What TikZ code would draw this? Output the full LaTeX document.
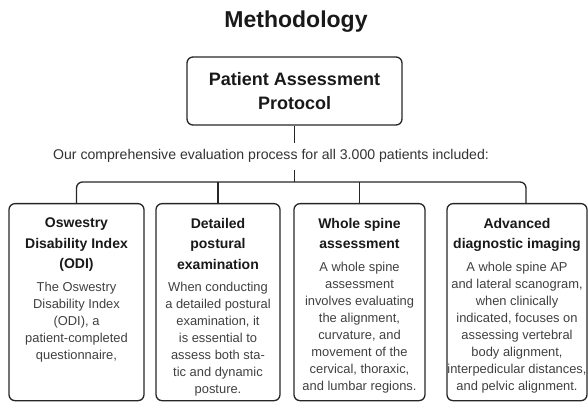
\documentclass[tikz,border=0pt]{standalone}
\usepackage{fontspec}
\setmainfont{Liberation Sans}
\usetikzlibrary{positioning}

\begin{document}
\begin{tikzpicture}[x=1pt,y=-1pt,
  card/.style={draw=black!85,line width=1.3pt,rounded corners=6pt,minimum height=197pt,inner sep=0pt,anchor=north},
  head/.style={inner sep=0pt,align=center,text depth=3.5pt,font=\fontsize{14}{20.5}\selectfont\bfseries,text=black!90},
  body/.style={inner sep=0pt,align=center,font=\fontsize{12.9}{17}\selectfont,text=black!75},
  link/.style={draw=black!85,line width=1.3pt}]
\useasboundingbox (0,0) rectangle (588,403);

\node [font=\fontsize{23}{28}\selectfont\bfseries,text=black!90] (title) at (296,22) {Methodology};
\node [draw=black!85,line width=1.3pt,rounded corners=6pt,minimum width=215pt,minimum height=68pt,
  align=center,font=\fontsize{18}{24}\selectfont\bfseries,text=black!90] (protocol) at (294.5,91)
  {Patient Assessment\\Protocol};
\node [anchor=base,inner xsep=0pt,inner ysep=7pt,text height=9.5pt,text depth=2.5pt,
  font=\fontsize{14.1}{16}\selectfont,text=black!80] (intro) at (271,160)
  {Our comprehensive evaluation process for all 3.000 patients included:};
\coordinate (hub) at (294.5,182);
\coordinate (imgjoin) at (526,203);

\node [card,minimum width=135pt] (odi) at (76.5,203) {};
\node [card,minimum width=124pt] (postural) at (218,203) {};
\node [card,minimum width=131pt] (spine) at (359.5,203) {};
\node [card,minimum width=140pt] (imaging) at (517,203) {};

\node [head,below=15pt of odi.north] (odihead) {Oswestry\\Disability Index\\(ODI)};
\node [body,below=9pt of odihead] (odibody)
  {The Oswestry\\Disability Index\\(ODI), a\\patient-completed\\questionnaire,};
\node [head,below=15pt of postural.north] (posturalhead) {Detailed\\postural\\examination};
\node [body,below=9pt of posturalhead] (posturalbody)
  {When conducting\\a detailed postural\\examination, it\\is essential to\\assess both sta-\\tic and dynamic\\posture.};
\node [head,below=15pt of spine.north] (spinehead) {Whole spine\\assessment};
\node [body,below=9pt of spinehead] (spinebody)
  {A whole spine\\assessment\\involves evaluating\\the alignment,\\curvature, and\\movement of the\\cervical, thoraxic,\\and lumbar regions.};
\node [head,below=15pt of imaging.north] (imaginghead) {Advanced\\diagnostic imaging};
\node [body,below=9pt of imaginghead] (imagingbody)
  {A whole spine AP\\and lateral scanogram,\\when clinically\\indicated, focuses on\\assessing vertebral\\body alignment,\\interpedicular distances,\\and pelvic alignment.};

\draw [link] (protocol.south) -- (protocol.south |- intro.north);
\draw [link] (protocol.south |- intro.south) -- (hub);
\draw [link,rounded corners=6pt] (odi.north) |- (imgjoin |- hub) -- (imgjoin);
\draw [link] (postural.north) -- (postural.north |- hub);
\draw [link] (spine.north) -- (spine.north |- hub);
\end{tikzpicture}
\end{document}
